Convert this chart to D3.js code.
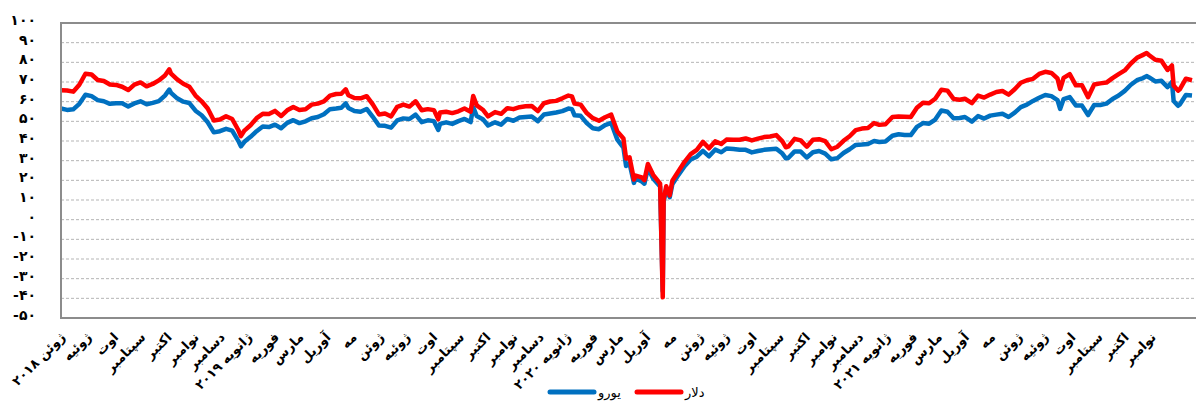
<!DOCTYPE html>
<html>
<head>
<meta charset="utf-8">
<script src="https://cdn.jsdelivr.net/npm/d3@7"></script>
<style>
  body { margin: 0; background: #fff; }
  svg { display: block; }
  text { font-family: "DejaVu Sans", sans-serif; }
</style>
</head>
<body>
<div id="chart"></div>
<script>
// weekly closing prices
var dates = [
  "2018-06-01","2018-06-08","2018-06-15","2018-06-22","2018-06-29","2018-07-06","2018-07-13","2018-07-20","2018-07-27",
  "2018-08-03","2018-08-10","2018-08-17","2018-08-24","2018-08-31","2018-09-07","2018-09-14","2018-09-21","2018-09-28",
  "2018-10-03","2018-10-05","2018-10-12","2018-10-19","2018-10-26","2018-11-02","2018-11-09","2018-11-16","2018-11-23",
  "2018-11-30","2018-12-07","2018-12-14","2018-12-21","2018-12-24","2018-12-28",
  "2019-01-04","2019-01-11","2019-01-18","2019-01-25","2019-02-01","2019-02-08","2019-02-15","2019-02-22","2019-03-01",
  "2019-03-08","2019-03-15","2019-03-22","2019-03-29","2019-04-05","2019-04-12","2019-04-18","2019-04-23","2019-04-26",
  "2019-05-03","2019-05-10","2019-05-17","2019-05-24","2019-05-31","2019-06-07","2019-06-14","2019-06-21","2019-06-28",
  "2019-07-05","2019-07-12","2019-07-19","2019-07-26","2019-08-02","2019-08-07","2019-08-09","2019-08-16","2019-08-23",
  "2019-08-30","2019-09-06","2019-09-13","2019-09-16","2019-09-20","2019-09-27","2019-10-03","2019-10-11","2019-10-18",
  "2019-10-25","2019-11-01","2019-11-08","2019-11-15","2019-11-22","2019-11-29","2019-12-06","2019-12-13","2019-12-20",
  "2019-12-27",
  "2020-01-03","2020-01-07","2020-01-10","2020-01-17","2020-01-24","2020-01-31","2020-02-07","2020-02-14","2020-02-21",
  "2020-02-28","2020-03-06","2020-03-09","2020-03-13","2020-03-18","2020-03-20","2020-03-27","2020-03-30","2020-04-03",
  "2020-04-09","2020-04-17","2020-04-20","2020-04-21","2020-04-24","2020-04-28","2020-05-01","2020-05-08","2020-05-15",
  "2020-05-22","2020-05-29","2020-06-05","2020-06-12","2020-06-19","2020-06-26","2020-07-02","2020-07-10","2020-07-17",
  "2020-07-24","2020-07-31","2020-08-07","2020-08-14","2020-08-21","2020-08-28","2020-09-04","2020-09-08","2020-09-11",
  "2020-09-18","2020-09-25","2020-10-02","2020-10-09","2020-10-16","2020-10-23","2020-10-30","2020-11-06","2020-11-13",
  "2020-11-20","2020-11-27","2020-12-04","2020-12-11","2020-12-18","2020-12-24","2020-12-31",
  "2021-01-08","2021-01-15","2021-01-22","2021-01-29","2021-02-05","2021-02-12","2021-02-19","2021-02-26","2021-03-05",
  "2021-03-12","2021-03-19","2021-03-26","2021-04-01","2021-04-09","2021-04-16","2021-04-23","2021-04-30","2021-05-07",
  "2021-05-14","2021-05-21","2021-05-28","2021-06-04","2021-06-11","2021-06-18","2021-06-25","2021-07-02","2021-07-09",
  "2021-07-16","2021-07-19","2021-07-23","2021-07-30","2021-08-06","2021-08-13","2021-08-20","2021-08-27","2021-09-03",
  "2021-09-10","2021-09-17","2021-09-24","2021-10-01","2021-10-08","2021-10-15","2021-10-22","2021-10-26","2021-10-29",
  "2021-11-05","2021-11-12","2021-11-19","2021-11-24","2021-11-26","2021-12-01","2021-12-03","2021-12-10","2021-12-17"
];

var dollar = [
  65.8,65.7,65.1,68.6,74.2,73.8,71.0,70.5,68.7,
  68.5,67.6,65.9,68.7,69.8,67.8,69.0,70.8,73.3,
  76.4,74.3,71.3,69.1,67.6,63.1,60.2,56.5,50.4,
  50.9,52.6,51.2,45.6,42.5,45.3,
  48.0,51.6,53.8,53.7,55.3,52.7,55.6,57.3,55.8,
  56.1,58.5,59.0,60.1,63.1,63.9,64.0,66.3,63.3,
  61.9,61.7,62.8,58.6,53.5,54.0,52.5,57.4,58.5,
  57.5,60.2,55.6,56.2,55.7,51.1,54.5,54.9,54.2,
  55.1,56.5,54.9,62.9,58.1,55.9,52.5,54.7,53.8,
  56.7,56.2,57.2,57.7,57.8,55.2,59.2,60.1,60.4,
  61.7,
  63.1,62.7,59.0,58.5,54.2,51.6,50.3,52.1,53.4,
  44.8,41.3,31.1,31.7,20.4,22.4,21.5,20.1,28.3,
  22.8,18.3,-39.5,10.0,17.0,12.3,19.8,24.7,29.4,
  33.3,35.5,39.6,36.3,39.8,38.5,40.7,40.6,40.6,
  41.3,40.3,41.2,42.0,42.3,43.0,39.8,36.8,37.3,
  41.1,40.3,37.1,40.6,40.9,39.9,35.8,37.1,40.1,
  42.4,45.5,46.3,46.6,49.1,48.2,48.5,
  52.2,52.4,52.3,52.2,56.9,59.5,59.2,61.5,66.1,
  65.6,61.4,61.0,61.5,59.3,63.1,62.1,63.6,64.9,
  65.4,63.6,66.3,69.6,70.9,71.6,74.1,75.2,74.6,
  71.8,66.4,72.1,74.0,68.3,68.4,62.3,68.7,69.3,
  69.7,72.0,74.0,75.9,79.4,82.3,83.8,84.7,83.6,
  81.3,80.8,76.1,78.4,68.2,65.6,66.3,71.7,70.9
];

var euro = [
  56.5,55.8,56.1,58.9,63.5,62.8,60.8,60.2,58.9,
  59.2,59.2,57.6,59.1,60.2,58.7,59.4,60.3,63.1,
  66.1,64.5,61.7,60.0,59.3,55.4,53.1,49.5,44.4,
  45.0,46.2,45.3,40.1,37.3,39.6,
  42.1,45.0,47.4,47.1,48.3,46.5,49.2,50.6,49.1,
  50.0,51.6,52.2,53.6,56.2,56.5,56.9,59.1,56.8,
  55.3,54.9,56.3,52.3,47.9,47.7,46.8,50.5,51.5,
  51.2,53.4,49.6,50.5,50.1,45.6,48.7,49.5,48.7,
  50.1,51.2,49.6,57.2,52.7,51.1,47.9,49.5,48.3,
  51.2,50.3,51.9,52.2,52.5,50.1,53.5,54.0,54.5,
  55.2,
  56.5,56.2,53.1,52.8,49.1,46.5,46.0,48.1,49.2,
  40.7,36.6,27.3,28.6,18.7,20.9,19.4,18.3,26.2,
  20.9,16.8,-36.4,9.2,15.7,11.4,18.0,22.8,27.2,
  30.6,32.0,35.0,32.2,35.6,34.3,36.2,35.9,35.5,
  35.5,34.2,34.9,35.5,35.8,36.1,33.6,31.2,31.5,
  34.7,34.6,31.6,34.3,34.9,33.6,30.7,31.3,33.9,
  35.8,38.0,38.2,38.5,40.0,39.5,39.7,
  42.7,43.4,43.0,43.0,47.2,49.1,48.8,50.9,55.5,
  54.9,51.6,51.7,52.2,49.8,52.7,51.4,52.9,53.4,
  53.9,52.2,54.4,57.2,58.5,60.4,62.0,63.4,62.8,
  60.8,56.3,61.3,62.3,58.1,58.0,53.2,58.3,58.3,
  59.0,61.4,63.1,65.5,68.6,70.9,72.0,73.0,72.3,
  70.3,70.6,67.4,70.0,60.3,57.9,58.6,63.4,63.1
];

var monthLabels = [
  "ژوئن ۲۰۱۸","ژوئیه","اوت","سپتامبر","اکتبر","نوامبر","دسامبر",
  "ژانویه ۲۰۱۹","فوریه","مارس","آوریل","مه","ژوئن","ژوئیه","اوت","سپتامبر","اکتبر","نوامبر","دسامبر",
  "ژانویه ۲۰۲۰","فوریه","مارس","آوریل","مه","ژوئن","ژوئیه","اوت","سپتامبر","اکتبر","نوامبر","دسامبر",
  "ژانویه ۲۰۲۱","فوریه","مارس","آوریل","مه","ژوئن","ژوئیه","اوت","سپتامبر","اکتبر","نوامبر"
];

var seriesNames = ["یورو", "دلار"];
var seriesColors = ["#0070c0", "#ff0000"];

var yTicks = d3.range(-50, 101, 10);

var width = 1196, height = 403;
var margin = { left: 61, top: 23, right: 4, bottom: 85 };

var faDigits = "۰۱۲۳۴۵۶۷۸۹";
function toFa(n) {
  return String(n).replace(/[0-9]/g, function (c) { return faDigits[+c]; });
}

var parse = d3.timeParse("%Y-%m-%d");
var data = dates.map(function (d, i) {
  return { date: parse(d), dollar: dollar[i], euro: euro[i] };
});

var svg = d3.select("#chart").append("svg")
  .attr("width", width)
  .attr("height", height);

var x = d3.scaleTime()
  .domain(d3.extent(data, function (d) { return d.date; }))
  .range([margin.left, width - margin.right]);

var y = d3.scaleLinear()
  .domain([-50, 100])
  .range([height - margin.bottom, margin.top]);

// grid lines
svg.append("g").selectAll("line")
  .data(yTicks.filter(function (t) { return t > -50 && t < 100; }))
  .enter().append("line")
  .attr("x1", margin.left)
  .attr("x2", width)
  .attr("y1", function (d) { return y(d); })
  .attr("y2", function (d) { return y(d); })
  .attr("stroke", "#b5b5b5")
  .attr("stroke-width", 1)
  .attr("stroke-dasharray", "3,2");

// y labels
svg.append("g").selectAll("text")
  .data(yTicks)
  .enter().append("text")
  .attr("x", 36)
  .attr("y", function (d) { return y(d) - 3; })
  .attr("dy", "0.35em")
  .attr("text-anchor", "end")
  .attr("font-size", 14)
  .attr("font-weight", "bold")
  .attr("fill", "#000")
  .text(function (d) { return d < 0 ? "-" + toFa(-d) : toFa(d); });

// lines
var lineEuro = d3.line()
  .x(function (d) { return x(d.date); })
  .y(function (d) { return y(d.euro); });
var lineDollar = d3.line()
  .x(function (d) { return x(d.date); })
  .y(function (d) { return y(d.dollar); });

svg.append("path")
  .datum(data)
  .attr("d", lineEuro)
  .attr("fill", "none")
  .attr("stroke", seriesColors[0])
  .attr("stroke-width", 4.5)
  .attr("stroke-linejoin", "round");

svg.append("path")
  .datum(data)
  .attr("d", lineDollar)
  .attr("fill", "none")
  .attr("stroke", seriesColors[1])
  .attr("stroke-width", 4.5)
  .attr("stroke-linejoin", "round");

// frame
svg.append("path")
  .attr("d", "M" + (width + 2) + "," + margin.top + "H" + margin.left +
    "V" + (height - margin.bottom) + "H" + (width + 2))
  .attr("fill", "none")
  .attr("stroke", "#8c8c8c")
  .attr("stroke-width", 2);

// x labels, one per month
var months = d3.timeMonth.range(new Date(2018, 5, 1), new Date(2021, 11, 1));
svg.append("g").selectAll("text")
  .data(months)
  .enter().append("text")
  .attr("transform", function (d) {
    return "translate(" + (x(d) + 5) + "," + 338 + ") rotate(-45)";
  })
  .attr("text-anchor", "end")
  .attr("font-size", 13)
  .attr("font-weight", "bold")
  .attr("fill", "#000")
  .text(function (d, i) { return monthLabels[i]; });

// legend
var legend = svg.append("g");
var legendX = [550, 637];
seriesNames.forEach(function (name, i) {
  legend.append("line")
    .attr("x1", legendX[i]).attr("x2", legendX[i] + 44)
    .attr("y1", 392).attr("y2", 392)
    .attr("stroke", seriesColors[i])
    .attr("stroke-width", 5)
    .attr("stroke-linecap", "round");
  legend.append("text")
    .attr("x", legendX[i] + 48)
    .attr("y", 392)
    .attr("dy", "0.35em")
    .attr("font-size", 13)
    .attr("fill", "#000")
    .text(name);
});
</script>
</body>
</html>
